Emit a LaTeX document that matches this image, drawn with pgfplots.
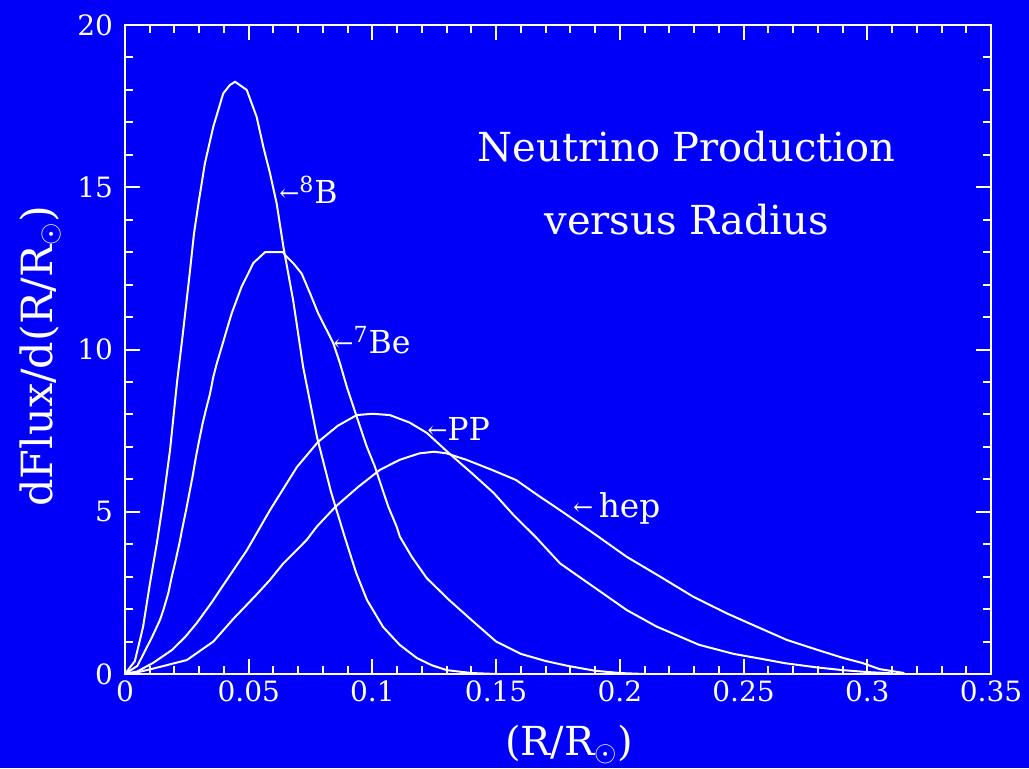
\documentclass[border=0pt]{standalone}
\usepackage{fontspec}
\setmainfont{DejaVu Serif}
\usepackage{pgfplots}
\pgfplotsset{compat=1.18}
\definecolor{bg}{RGB}{0,0,250}
\pgfplotstableread{
x y
0 0
0.004 0.4
0.0073 1.45
0.0101 2.8
0.0129 4.04
0.0155 5.36
0.0182 6.9
0.021 8.97
0.0234 10.5
0.026 12.24
0.0279 13.58
0.0299 14.6
0.0323 15.74
0.0357 16.87
0.0397 17.89
0.0424 18.15
0.0445 18.25
0.0492 18.0
0.0532 17.17
0.0559 16.25
0.0586 15.43
0.0613 14.5
0.064 13.17
0.068 11.5
0.072 9.46
0.0776 7.3
0.0833 5.6
0.0889 4.2
0.0935 3.1
0.0978 2.28
0.1043 1.45
0.111 0.9
0.118 0.49
0.124 0.27
0.130 0.12
0.14 0.03
0.15 0
}\boron
\pgfplotstableread{
x y
0 0
0.005 0.25
0.011 1.15
0.0141 1.66
0.0155 1.97
0.0175 2.49
0.0189 3.0
0.0202 3.41
0.022 4.03
0.0233 4.54
0.0247 5.05
0.026 5.57
0.0273 6.08
0.0287 6.7
0.03 7.21
0.0314 7.73
0.0327 8.14
0.0344 8.65
0.0357 9.16
0.0371 9.57
0.0391 10.08
0.0411 10.6
0.0431 11.11
0.0451 11.52
0.0471 11.93
0.0498 12.34
0.0518 12.66
0.0566 13.0
0.0639 13.0
0.0647 12.91
0.068 12.66
0.0714 12.34
0.0748 11.73
0.0781 11.11
0.0815 10.6
0.0842 10.19
0.0869 9.57
0.0896 8.86
0.0923 8.24
0.095 7.62
0.0977 7.01
0.101 6.39
0.1037 5.77
0.1064 5.16
0.1098 4.54
0.1111 4.23
0.116 3.6
0.122 2.95
0.131 2.28
0.141 1.6
0.15 1.0
0.16 0.62
0.17 0.4
0.179 0.25
0.19 0.1
0.2 0.03
0.21 0
}\beryl
\pgfplotstableread{
x y
0 0
0.005 0.08
0.0113 0.34
0.019 0.74
0.0243 1.14
0.029 1.57
0.035 2.2
0.0384 2.59
0.0493 3.82
0.0586 5.05
0.0695 6.38
0.078 7.15
0.086 7.65
0.0937 7.98
0.1 8.02
0.107 7.98
0.115 7.75
0.122 7.43
0.131 6.8
0.14 6.2
0.149 5.58
0.157 4.9
0.166 4.22
0.1758 3.41
0.1893 2.69
0.2028 1.97
0.2149 1.46
0.232 0.9
0.246 0.62
0.257 0.47
0.267 0.33
0.28 0.2
0.29 0.12
0.3 0.06
0.31 0.02
}\ppdata
\pgfplotstableread{
x y
0 0
0.006 0.07
0.0121 0.18
0.025 0.43
0.0357 1.0
0.0438 1.7
0.0532 2.45
0.0586 2.9
0.064 3.41
0.0694 3.82
0.0734 4.13
0.0775 4.54
0.085 5.15
0.094 5.75
0.103 6.29
0.111 6.6
0.119 6.8
0.125 6.85
0.130 6.8
0.138 6.6
0.148 6.3
0.158 5.98
0.167 5.5
0.1758 5.05
0.1893 4.34
0.2028 3.61
0.2163 3.0
0.2297 2.38
0.2432 1.87
0.2553 1.46
0.2675 1.05
0.28 0.74
0.29 0.5
0.298 0.34
0.305 0.15
0.315 0.03
}\hep
\newcommand{\arr}{\raisebox{1pt}{\fontsize{12}{12}\selectfont ←}}
\begin{document}
\begin{tikzpicture}
\fill[bg] (0,0) rectangle (514.5pt,384pt);
\begin{axis}[
  at={(62.5pt,47pt)}, anchor=south west,
  scale only axis, width=433pt, height=324.5pt,
  xmin=0, xmax=0.35, ymin=0, ymax=20,
  xtick={0,0.05,0.1,0.15,0.2,0.25,0.3,0.35},
  xticklabels={0,0.05,0.1,0.15,0.2,0.25,0.3,0.35},
  ytick={0,5,10,15,20},
  /pgf/number format/assume math mode=true,
  minor x tick num=4, minor y tick num=4,
  tick align=inside,
  major tick length=7.5pt, minor tick length=4pt,
  axis line style={white, line width=1.2pt},
  tick style={white, line width=1pt},
  ticklabel style={white, font=\fontsize{14}{16}\selectfont},
  yticklabel style={xshift=-2.5pt},
  label style={white},
  xlabel={(R/R$_\odot$)},
  ylabel={dFlux/d(R/R$_\odot$)},
  xlabel style={at={(rel axis cs:0.513,-0.109)}, anchor=center, font=\fontsize{20}{24}\selectfont},
  ylabel style={at={(rel axis cs:-0.098,0.49)}, anchor=center, font=\fontsize{21.5}{24}\selectfont},
]
\addplot[white, line width=1pt] table {\boron};
\addplot[white, line width=1pt] table {\beryl};
\addplot[white, line width=1pt] table {\ppdata};
\addplot[white, line width=1pt] table {\hep};
\node[white, inner sep=0, font=\fontsize{20}{22}\selectfont] at (axis cs:0.227,16.24) {Neutrino Production};
\node[white, inner sep=0, font=\fontsize{20}{22}\selectfont] at (axis cs:0.227,13.99) {versus Radius};
\node[white, inner sep=0, anchor=base west, font=\fontsize{15.8}{20}\selectfont] at (axis cs:0.0622,14.51) {\arr\textsuperscript{8}B};
\node[white, inner sep=0, anchor=base west, font=\fontsize{15.8}{20}\selectfont] at (axis cs:0.0841,9.89) {\arr\textsuperscript{7}Be};
\node[white, inner sep=0, anchor=base west, font=\fontsize{15.8}{20}\selectfont] at (axis cs:0.122,7.21) {\arr PP};
\node[white, inner sep=0, anchor=base west, font=\fontsize{16.4}{20}\selectfont] at (axis cs:0.181,4.81) {\arr\,hep};
\end{axis}
\pgfresetboundingbox
\useasboundingbox (0,0) rectangle (514.5pt,384pt);
\end{tikzpicture}
\end{document}
